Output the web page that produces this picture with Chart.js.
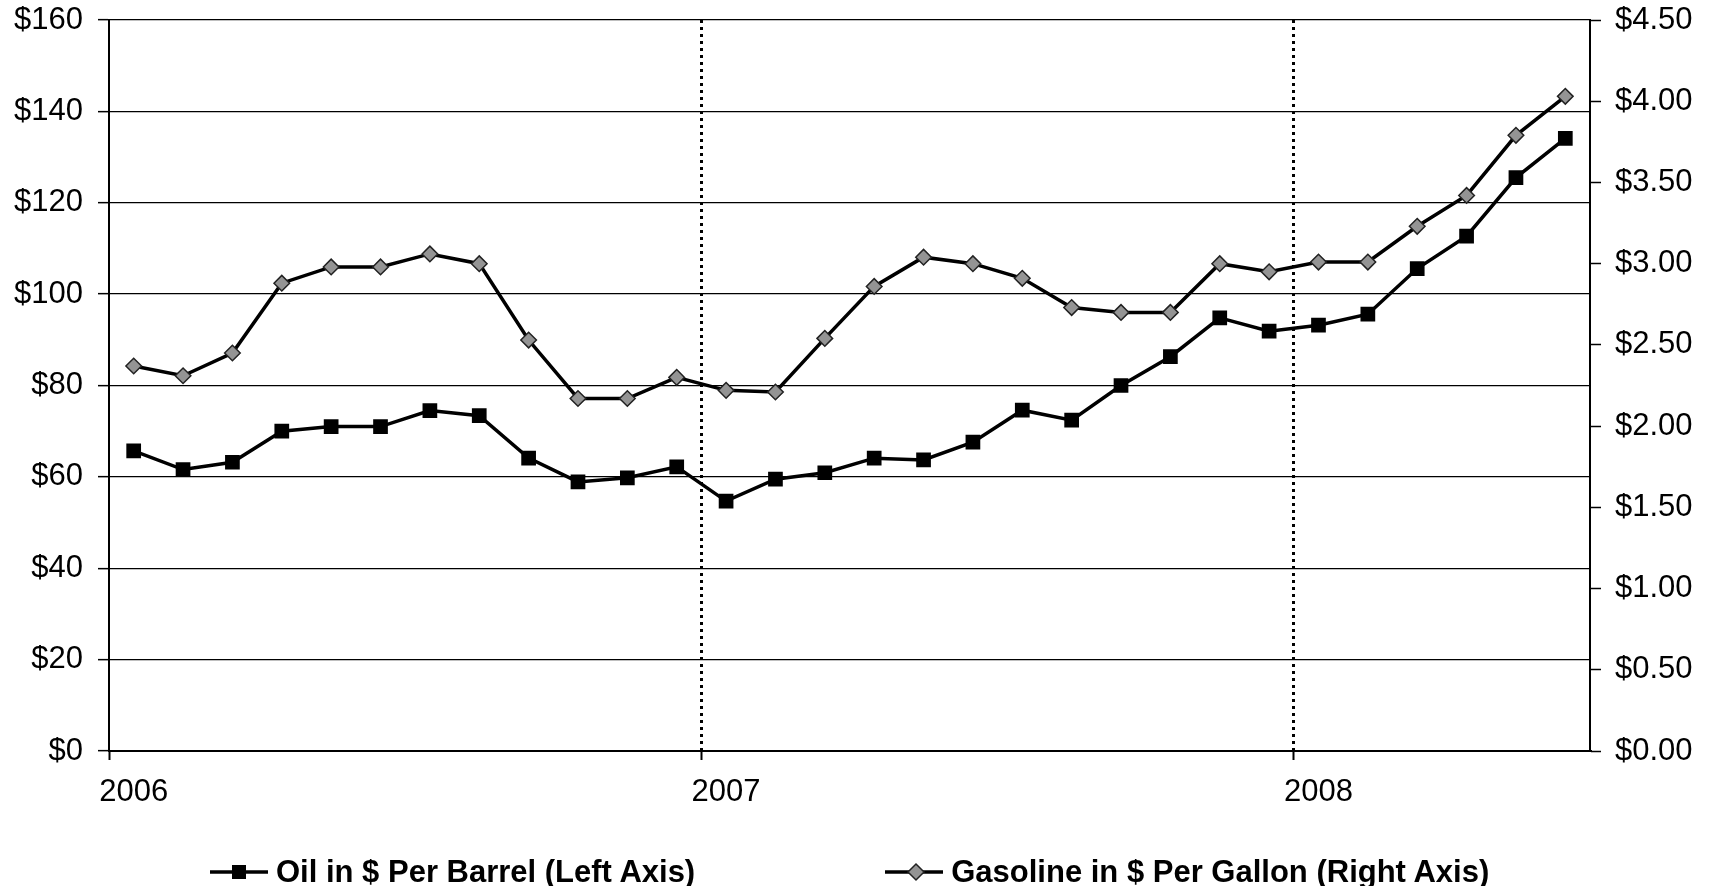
<!DOCTYPE html>
<html>
<head>
<meta charset="utf-8">
<script src="https://cdn.jsdelivr.net/npm/chart.js@4/dist/chart.umd.min.js"></script>
<style>
  body { margin: 0; background: #fff; }
  #wrap { position: relative; width: 1713px; height: 886px; }
  #legend { position: absolute; left: 210px; top: 854px; display: flex; gap: 190px;
    font: bold 31px "Liberation Sans", Arial, sans-serif; line-height: 36px; color: #000; }
  .item { display: flex; align-items: center; gap: 8px; }
  .item svg { display: block; }
</style>
</head>
<body>
<div id="wrap">
  <canvas id="chart" width="1713" height="886"></canvas>
  <div id="legend">
    <div class="item">
      <svg width="58" height="20"><line x1="0" y1="10" x2="58" y2="10" stroke="#000" stroke-width="3.5"/><rect x="22" y="3" width="14" height="14" fill="#000"/></svg>
      <span>Oil in $ Per Barrel (Left Axis)</span>
    </div>
    <div class="item">
      <svg width="58" height="20"><line x1="0" y1="10" x2="58" y2="10" stroke="#000" stroke-width="3.5"/><polygon points="31,2 39,10 31,18 23,10" fill="#949494" stroke="#222" stroke-width="1.5"/></svg>
      <span>Gasoline in $ Per Gallon (Right Axis)</span>
    </div>
  </div>
</div>
<script>
// months, Jan 2006 .. Jun 2008
const months = [
  '2006-01', '2006-02', '2006-03', '2006-04', '2006-05', '2006-06',
  '2006-07', '2006-08', '2006-09', '2006-10', '2006-11', '2006-12',
  '2007-01', '2007-02', '2007-03', '2007-04', '2007-05', '2007-06',
  '2007-07', '2007-08', '2007-09', '2007-10', '2007-11', '2007-12',
  '2008-01', '2008-02', '2008-03', '2008-04', '2008-05', '2008-06'
];

// oil, $ per barrel (left axis)
const oilPrices = [
  65.7, 61.6, 63.2, 70.0, 71.0, 71.0, 74.5, 73.4, 64.1, 58.9, 59.8, 62.2,
  54.7, 59.5, 60.9, 64.1, 63.7, 67.6, 74.6, 72.4, 80.0, 86.3, 94.8, 91.9,
  93.2, 95.6, 105.6, 112.7, 125.5, 134.1
];

// gasoline, $ per gallon (right axis)
const gasPrices = [
  2.37, 2.31, 2.45, 2.88, 2.98, 2.98, 3.06, 3.00, 2.53, 2.17, 2.17, 2.30,
  2.22, 2.21, 2.54, 2.86, 3.04, 3.00, 2.91, 2.73, 2.70, 2.70, 3.00, 2.95,
  3.01, 3.01, 3.23, 3.42, 3.79, 4.03
];

const seriesNames = ['Oil in $ Per Barrel (Left Axis)', 'Gasoline in $ Per Gallon (Right Axis)'];
const yearTicks = ['2006', '2007', '2008'];

Chart.defaults.font.family = '"Liberation Sans", Arial, sans-serif';
Chart.defaults.color = '#000';

// index where each year starts
const yearStart = months.map((m, i) => m.endsWith('-01') ? i : -1).filter(i => i >= 0);

// fixed axis sizes so the plot box lands where the original has it
function fixWidth(w) {
  return s => { s.width = w; s.paddingTop = 0; s.paddingBottom = 0; };
}

const ctx = document.getElementById('chart').getContext('2d');

new Chart(ctx, {
  type: 'line',
  data: {
    labels: months,
    datasets: [
      {
        label: seriesNames[0],
        data: oilPrices,
        yAxisID: 'y',
        borderColor: '#000',
        borderWidth: 3.5,
        pointStyle: 'rect',
        pointRadius: 10.4,
        pointBackgroundColor: '#000',
        pointBorderWidth: 0,
        tension: 0
      },
      {
        label: seriesNames[1],
        data: gasPrices,
        yAxisID: 'y1',
        borderColor: '#000',
        borderWidth: 3.5,
        pointStyle: 'rectRot',
        pointRadius: 7.8,
        pointBackgroundColor: '#949494',
        pointBorderColor: '#222',
        pointBorderWidth: 1.5,
        tension: 0
      }
    ]
  },
  options: {
    responsive: false,
    animation: false,
    layout: { padding: { top: 20, bottom: 75, left: 0, right: 0 } },
    plugins: {
      legend: { display: false },
      tooltip: { enabled: false }
    },
    scales: {
      x: {
        type: 'category',
        offset: true,
        afterFit: s => { s.height = 60; },
        grid: {
          offset: true,
          color: c => (yearStart.includes(c.index) && c.index > 0) ? '#000' : 'transparent',
          lineWidth: 3,
          tickColor: c => yearStart.includes(c.index) ? '#000' : 'transparent',
          tickWidth: 2,
          tickLength: 9,
          tickBorderDash: []
        },
        border: { display: true, color: '#000', width: 2, dash: [3, 4] },
        ticks: {
          autoSkip: false,
          maxRotation: 0,
          padding: 14,
          font: { size: 31 },
          callback: (v, i) => {
            const k = yearStart.indexOf(i);
            return k >= 0 ? yearTicks[k] : '';
          }
        }
      },
      y: {
        position: 'left',
        min: 0,
        max: 160,
        afterFit: fixWidth(109),
        grid: { color: '#000', lineWidth: 1.3, tickLength: 11, tickColor: '#000', tickWidth: 1.5 },
        border: { color: '#000', width: 2 },
        ticks: {
          stepSize: 20,
          padding: 15,
          font: { size: 31 },
          callback: v => '$' + v
        }
      },
      y1: {
        position: 'right',
        min: 0,
        max: 4.5,
        afterFit: fixWidth(123),
        grid: { drawOnChartArea: false, tickLength: 11, tickColor: '#000', tickWidth: 1.5 },
        border: { color: '#000', width: 2 },
        ticks: {
          stepSize: 0.5,
          padding: 14,
          font: { size: 31 },
          callback: v => '$' + v.toFixed(2)
        }
      }
    }
  }
});
</script>
</body>
</html>
